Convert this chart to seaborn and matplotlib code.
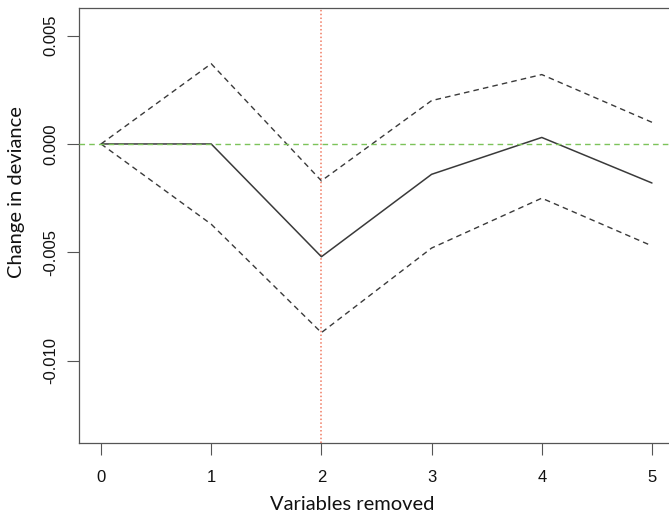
import matplotlib
matplotlib.use("Agg")
import matplotlib.pyplot as plt
import pandas as pd
import seaborn as sns

# values
vars_removed = [0, 1, 2, 3, 4, 5]
mean_change = [0.0, 0.0, -0.0052, -0.0014, 0.0003, -0.0018]
upper_band = [0.0, 0.0037, -0.0017, 0.0020, 0.0032, 0.0010]
lower_band = [0.0, -0.0037, -0.0087, -0.0048, -0.0025, -0.0047]
y_ticks = [0.005, 0.000, -0.005, -0.010]
y_tick_labels = ["0.005", "0.000", "-0.005", "-0.010"]
best_step = 2

sns.set_style("white")
plt.rcParams["font.family"] = ["Liberation Sans", "DejaVu Sans"]

df = pd.DataFrame({
    "removed": vars_removed,
    "mean": mean_change,
    "upper": upper_band,
    "lower": lower_band,
})

fig = plt.figure(figsize=(6.69, 5.17), dpi=100)
W, H = 669, 517
left, right, top, bottom = 79, 674, 8, 443
ax = fig.add_axes([left / W, 1 - bottom / H, (right - left) / W, (bottom - top) / H])

line_col = "#3a3a3a"
ax.axhline(0, color="#7cc35a", lw=1.0, ls=(0, (4, 3)), zorder=3)
ax.axvline(best_step, color="#f07a62", lw=1.1, ls=(0, (1, 1.5)), zorder=1)

sns.lineplot(data=df, x="removed", y="mean", ax=ax, color=line_col, lw=1.1, zorder=2)
for col in ["upper", "lower"]:
    sns.lineplot(data=df, x="removed", y=col, ax=ax, color=line_col, lw=1.0,
                 dashes=False, linestyle=(0, (4, 3)), zorder=2)

ax.set_xlim(-0.2, 5.2)
ax.set_ylim(-0.01379, 0.00627)
ax.set_xticks(vars_removed)
ax.set_xticklabels([str(v) for v in vars_removed], fontsize=12)
ax.set_yticks(y_ticks)
ax.set_yticklabels(y_tick_labels, fontsize=12, rotation=90, va="center")

for side in ["left", "bottom", "top"]:
    ax.spines[side].set_color("#555555")
    ax.spines[side].set_linewidth(0.9)
# the reference is cropped just before the right edge of the box
ax.spines["right"].set_visible(False)
ax.tick_params(axis="both", which="major", length=8.6, width=0.8, color="#555555",
               labelcolor="#111111", left=True, bottom=True)
ax.tick_params(axis="x", pad=11)
ax.tick_params(axis="y", pad=6)

ax.set_xlabel("Variables removed", family=["Lato", "DejaVu Sans"], fontsize=14.5,
              color="#111111", va="center", ha="center")
ax.set_ylabel("Change in deviance", family=["Lato", "DejaVu Sans"], fontsize=14.5,
              color="#111111", va="center", ha="center")
ax.xaxis.set_label_coords((352 - left) / (right - left), (bottom - 505) / (bottom - top))
ax.yaxis.set_label_coords((17 - left) / (right - left), (bottom - 192) / (bottom - top))

fig.savefig("out.png", dpi=100)
plt.close(fig)
